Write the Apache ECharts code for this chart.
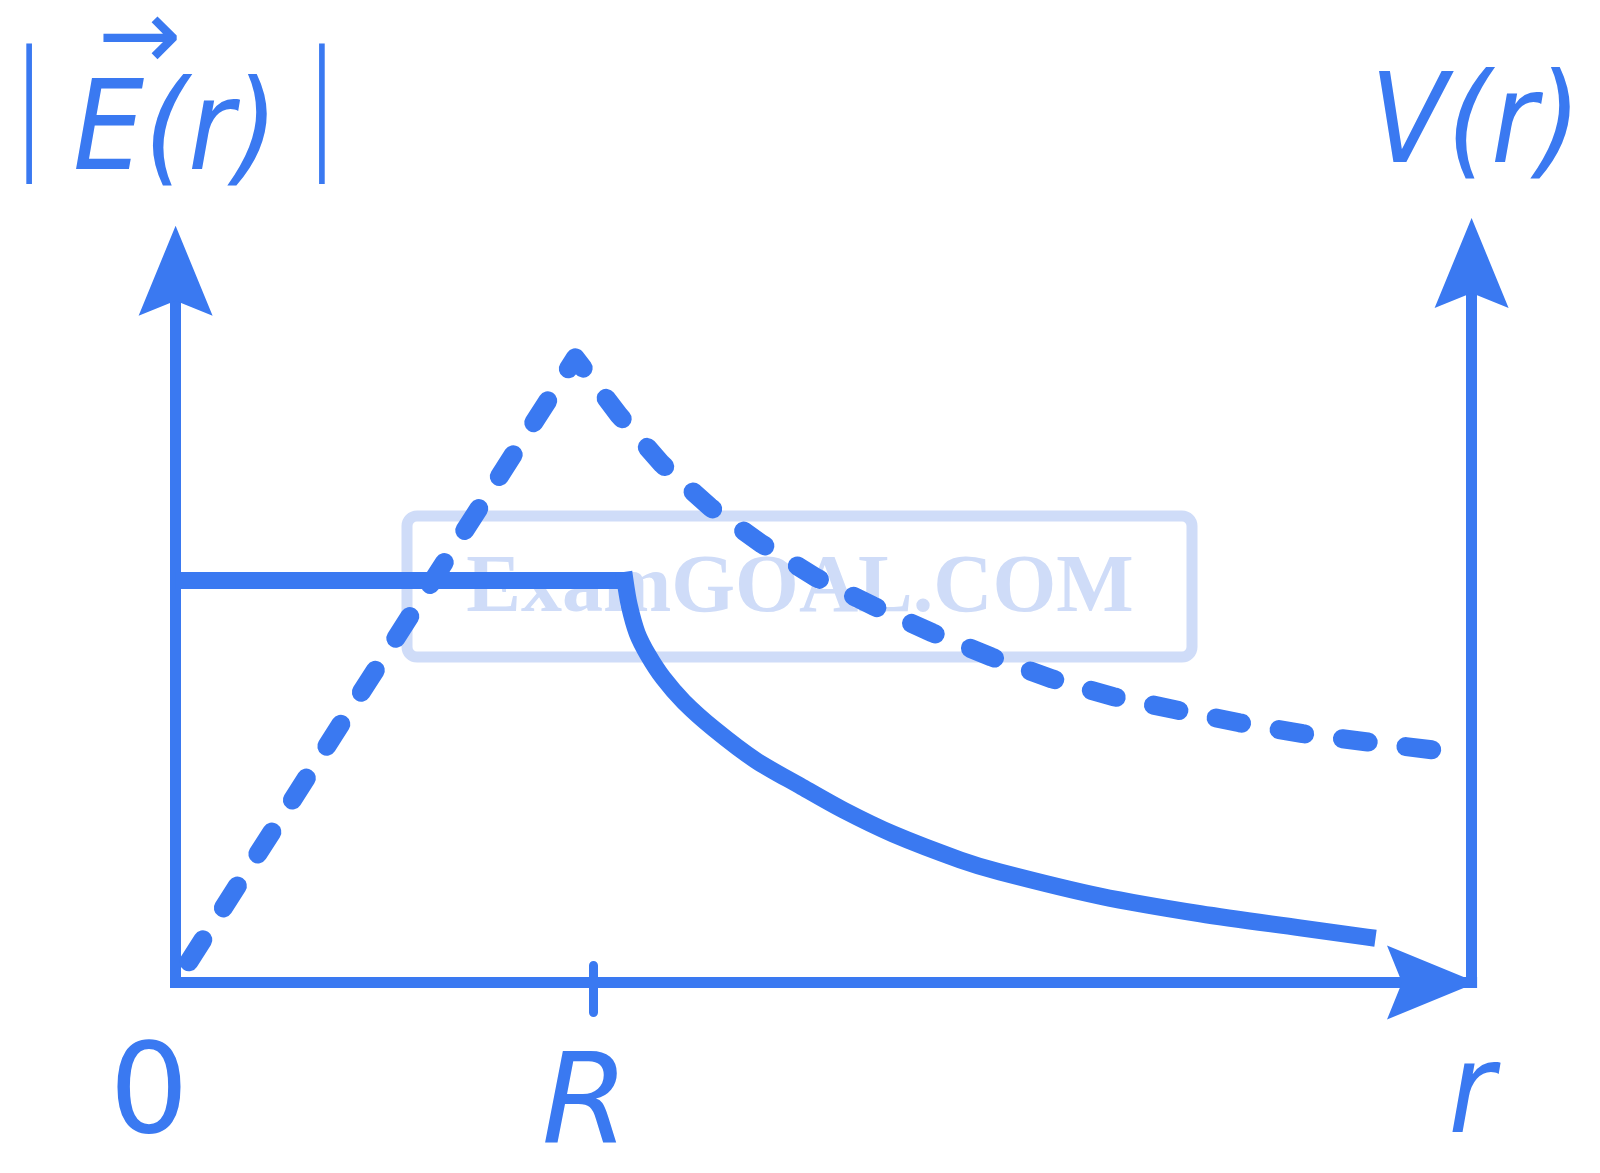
<!DOCTYPE html>
<html>
<head>
<meta charset="utf-8">
<script src="https://cdn.jsdelivr.net/npm/echarts@6/dist/echarts.min.js"></script>
<style>
html,body{margin:0;padding:0;background:#ffffff;}
#c{width:1600px;height:1173px;}
</style>
</head>
<body>
<div id="c"></div>
<script>
// ---- data (r in units of R, values in units of the flat V level) ----
const R_VALUE = 1;
const X_MAX = 3.1;
const Y_MAX = 1.8;
const xLabelValues = [0, 1, 3.1];
const xLabelTexts = ['0', 'R', 'r'];

// |E(r)| : dashed curve
const rField = [0, 0.956, 1.060, 1.163, 1.278, 1.402, 1.534, 1.668, 1.810, 1.951, 2.097, 2.243, 2.389, 2.545, 2.696, 2.847, 3.045];
const eField = [0, 1.554, 1.412, 1.290, 1.183, 1.091, 1.006, 0.937, 0.870, 0.810, 0.755, 0.711, 0.679, 0.646, 0.619, 0.599, 0.574];

// V(r) : solid curve (flat inside, falling outside)
const rPot = [0, 1.075, 1.085, 1.104, 1.130, 1.166, 1.216, 1.288, 1.386, 1.494, 1.597, 1.717, 1.877, 1.972, 2.211, 2.451, 2.690, 2.850];
const vPot = [1.0, 1.0, 0.939, 0.869, 0.815, 0.758, 0.698, 0.631, 0.554, 0.489, 0.429, 0.369, 0.305, 0.275, 0.215, 0.171, 0.136, 0.113];

const BLUE = '#3a79f1';
const WM = '#cfdcf8';
const ARROW = 'path://M37,0L74,90L37,75L0,90Z';
const ITALIC = '"DejaVu Sans Condensed", "DejaVu Sans", sans-serif';
const ITALIC_WIDE = '"DejaVu Sans", sans-serif';
const BAR_FONT = 'Lato, "Liberation Sans", sans-serif';

const AXIS_W = 11;
const TICK_W = 9;
const SOLID_W = 17;
const DASH_W = 19;

const chart = echarts.init(document.getElementById('c'), null, {renderer: 'canvas'});

const pairs = function (xs, ys, from, to) {
  const out = [];
  for (let i = from; i < to; i++) out.push([xs[i], ys[i]]);
  return out;
};

const option = {
  animation: false,
  backgroundColor: '#ffffff',
  grid: {left: 175.6, right: 128.4, top: 258.9, bottom: 190.5, containLabel: false, outerBoundsMode: 'none'},
  graphic: [
    {type: 'rect', z: 0, shape: {x: 407, y: 516, width: 785, height: 141, r: 10},
     style: {fill: null, stroke: WM, lineWidth: 11}},
    {type: 'text', z: 0, x: 800, y: 590,
     style: {text: 'ExamGOAL.COM', font: 'bold 82px "Liberation Serif", serif', fill: WM,
             textAlign: 'center', textVerticalAlign: 'middle'}}
  ],
  xAxis: [{
    type: 'value', min: 0, max: X_MAX, position: 'bottom',
    axisLine: {show: true, onZero: false, symbol: ['none', ARROW], symbolSize: [74, 90],
               symbolOffset: [0, -39.6], lineStyle: {color: BLUE, width: AXIS_W, cap: 'square'}},
    axisTick: {show: true, customValues: [R_VALUE], length: 30,
               lineStyle: {color: BLUE, width: TICK_W, cap: 'round'}},
    axisLabel: {
      show: true, customValues: xLabelValues, margin: 55,
      formatter: function (v) {
        const i = xLabelValues.findIndex(function (x) { return Math.abs(x - v) < 1e-6; });
        return '{l' + i + '|' + xLabelTexts[i] + '}';
      },
      rich: {
        l0: {fontFamily: '"DejaVu Sans", sans-serif', fontSize: 125, color: BLUE, lineHeight: 125, padding: [0, 53, 0, 0]},
        l1: {fontFamily: ITALIC_WIDE, fontStyle: 'italic', fontSize: 125, color: BLUE, lineHeight: 125, padding: [21, 17, 0, 0]},
        l2: {fontFamily: ITALIC, fontStyle: 'italic', fontSize: 125, color: BLUE, lineHeight: 125, padding: [0, 0, 0, 0]}
      }
    },
    splitLine: {show: false}
  }, {
    type: 'value', min: 0, max: X_MAX, position: 'bottom',
    axisLine: {show: false},
    axisTick: {show: true, inside: true, customValues: [R_VALUE], length: 17,
               lineStyle: {color: BLUE, width: TICK_W, cap: 'round'}},
    axisLabel: {show: false},
    splitLine: {show: false}
  }],
  yAxis: [{
    type: 'value', min: 0, max: Y_MAX, position: 'left',
    axisLine: {show: true, onZero: false, symbol: ['none', ARROW], symbolSize: [74, 90],
               symbolOffset: [0, -11.8], lineStyle: {color: BLUE, width: AXIS_W, cap: 'square'}},
    axisTick: {show: false}, axisLabel: {show: false}, splitLine: {show: false},
    name: '{arr|→}\n{bl||}{e|E(r)}{br||}',
    nameLocation: 'end', nameGap: 47,
    nameTextStyle: {
      rich: {
        arr: {fontFamily: '"DejaVu Sans", sans-serif', fontSize: 100, color: BLUE, lineHeight: 38, padding: [0, 72, 0, 0]},
        bl: {fontFamily: BAR_FONT, fontWeight: 300, fontSize: 150, color: BLUE, lineHeight: 150, padding: [0, 26, 56, 14]},
        br: {fontFamily: BAR_FONT, fontWeight: 300, fontSize: 150, color: BLUE, lineHeight: 150, padding: [0, 14, 56, 26]},
        e: {fontFamily: ITALIC, fontStyle: 'italic', fontSize: 125, color: BLUE, lineHeight: 150}
      }
    }
  }, {
    type: 'value', min: 0, max: Y_MAX, position: 'right',
    axisLine: {show: true, onZero: false, symbol: ['none', ARROW], symbolSize: [74, 90],
               symbolOffset: [0, -4.1], lineStyle: {color: BLUE, width: AXIS_W, cap: 'square'}},
    axisTick: {show: false}, axisLabel: {show: false}, splitLine: {show: false},
    name: '{v|V(r)}',
    nameLocation: 'end', nameGap: 54,
    nameTextStyle: {
      rich: {
        v: {fontFamily: ITALIC, fontStyle: 'italic', fontSize: 125, color: BLUE, lineHeight: 150, padding: [0, 0, 0, 8]}
      }
    }
  }],
  series: [{
    name: '|E(r)|', type: 'line', xAxisIndex: 0, yAxisIndex: 0,
    data: pairs(rField, eField, 0, rField.length),
    showSymbol: false, symbol: 'none', clip: false, smooth: false,
    lineStyle: {color: BLUE, width: DASH_W, type: [26, 38], dashOffset: 39.4, cap: 'round', join: 'round'},
    z: 3
  }, {
    name: 'V(r)', type: 'line', xAxisIndex: 0, yAxisIndex: 1,
    data: pairs(rPot, vPot, 0, 2),
    showSymbol: false, symbol: 'none', clip: false, smooth: false,
    lineStyle: {color: BLUE, width: SOLID_W, type: 'solid', cap: 'butt'},
    z: 3
  }, {
    name: 'V(r) outside', type: 'line', xAxisIndex: 0, yAxisIndex: 1,
    data: pairs(rPot, vPot, 1, rPot.length),
    showSymbol: false, symbol: 'none', clip: false, smooth: 0.3,
    lineStyle: {color: BLUE, width: SOLID_W, type: 'solid', cap: 'square', join: 'round'},
    z: 3
  }]
};
chart.setOption(option);
</script>
</body>
</html>
